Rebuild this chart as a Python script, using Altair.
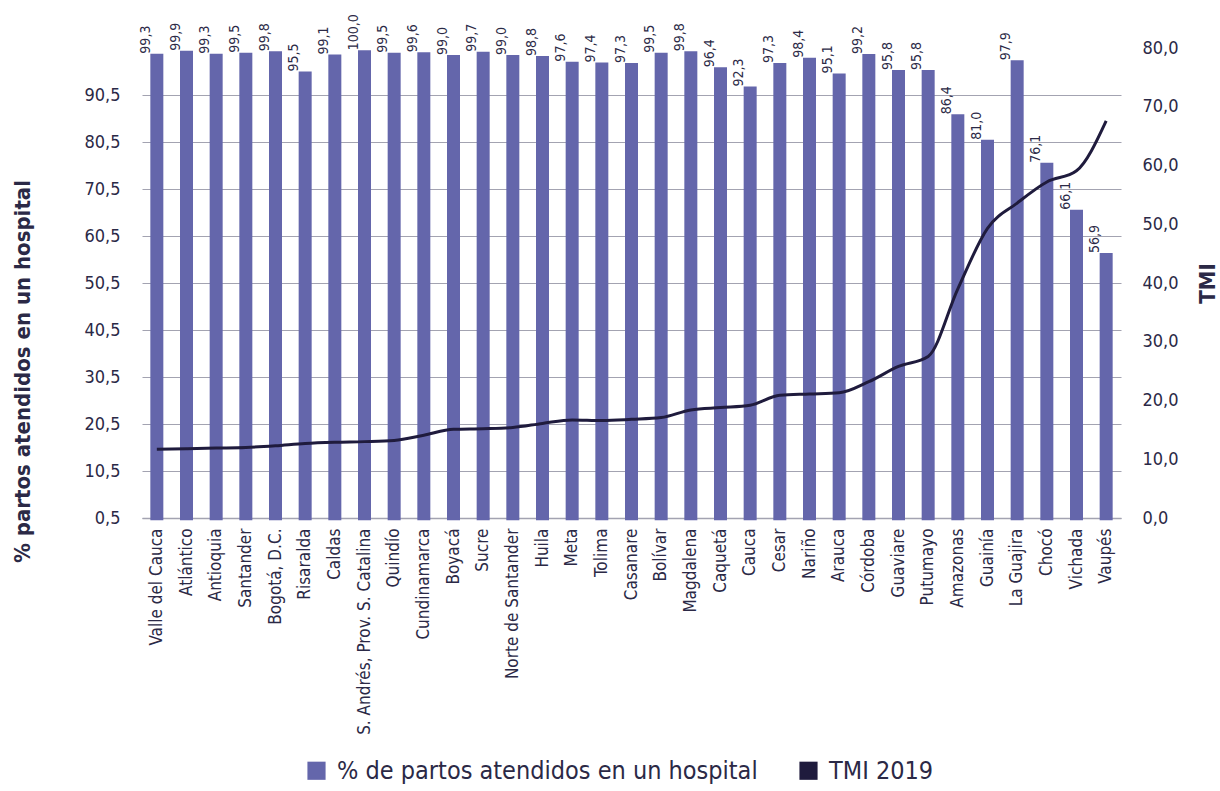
import altair as alt
import pandas as pd

# Departamentos, ordenados por TMI ascendente
departamentos = [
    "Valle del Cauca", "Atlántico", "Antioquia", "Santander", "Bogotá, D.C.",
    "Risaralda", "Caldas", "S. Andrés, Prov. S. Catalina", "Quindío",
    "Cundinamarca", "Boyacá", "Sucre", "Norte de Santander", "Huila", "Meta",
    "Tolima", "Casanare", "Bolívar", "Magdalena", "Caquetá", "Cauca", "Cesar",
    "Nariño", "Arauca", "Córdoba", "Guaviare", "Putumayo", "Amazonas",
    "Guainía", "La Guajira", "Chocó", "Vichada", "Vaupés",
]

# % de partos atendidos en un hospital
partos_hospital = [
    99.3, 99.9, 99.3, 99.5, 99.8, 95.5, 99.1, 100.0, 99.5, 99.6, 99.0, 99.7,
    99.0, 98.8, 97.6, 97.4, 97.3, 99.5, 99.8, 96.4, 92.3, 97.3, 98.4, 95.1,
    99.2, 95.8, 95.8, 86.4, 81.0, 97.9, 76.1, 66.1, 56.9,
]

# Tasa de mortalidad infantil 2019
tmi_2019 = [
    11.7, 11.8, 11.9, 12.0, 12.3, 12.7, 12.9, 13.0, 13.2, 14.1, 15.1, 15.2,
    15.4, 16.1, 16.7, 16.6, 16.8, 17.1, 18.4, 18.8, 19.2, 20.9, 21.1, 21.3,
    23.2, 25.8, 27.5, 39.0, 49.3, 53.6, 57.2, 59.1, 67.6,
]

left_ticks = [0.5, 10.5, 20.5, 30.5, 40.5, 50.5, 60.5, 70.5, 80.5, 90.5]
right_ticks = [0, 10, 20, 30, 40, 50, 60, 70, 80]

SERIE_BARRA = "% de partos atendidos en un hospital"
SERIE_LINEA = "TMI 2019"

BAR_COLOR = "#6466ab"
LINE_COLOR = "#1f1b3d"
TEXT_COLOR = "#2b2946"
GRID_COLOR = "#a3a3b1"
FONT = "Liberation Sans Narrow, DejaVu Sans Condensed, Roboto, sans-serif"

df = pd.DataFrame({
    "departamento": departamentos,
    "partos": partos_hospital,
    "tmi": tmi_2019,
})
df["etiqueta"] = [f"{v:.1f}".replace(".", ",") for v in partos_hospital]
df["serie"] = SERIE_BARRA

comma_1 = "replace(format(datum.value, '.1f'), '.', ',')"

x_enc = alt.X(
    "departamento:N",
    sort=departamentos,
    scale=alt.Scale(paddingInner=0.5, paddingOuter=0.25),
    axis=alt.Axis(
        title=None, labelAngle=270, labelFontSize=17, labelColor=TEXT_COLOR,
        labelFont=FONT, labelPadding=10, labelLimit=400, ticks=False,
        domainColor=GRID_COLOR, domainWidth=1.5,
    ),
)

y_left_scale = alt.Scale(domain=[0.5, 100.5], nice=False, zero=False)

bars = alt.Chart(df).mark_bar(size=13).encode(
    x=x_enc,
    y=alt.Y(
        "partos:Q",
        scale=y_left_scale,
        axis=alt.Axis(
            title="% partos atendidos en un hospital",
            values=left_ticks, labelExpr=comma_1,
            labelFontSize=18, labelColor=TEXT_COLOR, labelFont=FONT,
            labelPadding=22, ticks=False, domain=False,
            grid=True, gridColor=GRID_COLOR, gridWidth=1,
            titleFontSize=22, titleFontWeight="bold", titleColor=TEXT_COLOR,
            titleFont=FONT, titleAngle=270, titleX=-120, titleY=323,
            titleAlign="center", titleBaseline="middle",
        ),
    ),
    color=alt.Color(
        "serie:N",
        scale=alt.Scale(domain=[SERIE_BARRA, SERIE_LINEA],
                        range=[BAR_COLOR, LINE_COLOR]),
        legend=alt.Legend(
            title=None, orient="none", direction="horizontal",
            legendX=162, legendY=710, symbolType="square", symbolSize=330,
            symbolStrokeWidth=0, labelFontSize=25, labelFont=FONT,
            labelColor=TEXT_COLOR, labelOffset=8, columnPadding=38,
            labelLimit=600,
        ),
    ),
)

labels = alt.Chart(df).mark_text(
    angle=270, align="left", baseline="middle", dy=-11,
    fontSize=14, font=FONT, color=TEXT_COLOR,
).encode(
    x=alt.X("departamento:N", sort=departamentos),
    y=alt.Y("partos:Q", scale=y_left_scale),
    text="etiqueta:N",
)

line = alt.Chart(df).mark_line(
    interpolate="monotone", strokeWidth=3, color=LINE_COLOR,
).encode(
    x=alt.X("departamento:N", sort=departamentos),
    y=alt.Y(
        "tmi:Q",
        scale=alt.Scale(domain=[0, 80], nice=False),
        axis=alt.Axis(
            orient="right", title="TMI", values=right_ticks, labelExpr=comma_1,
            labelFontSize=18, labelColor=TEXT_COLOR, labelFont=FONT,
            labelPadding=21, ticks=False, domain=False, grid=False,
            titleFontSize=22, titleFontWeight="bold", titleColor=TEXT_COLOR,
            titleFont=FONT, titleAngle=270, titleX=86, titleY=235,
            titleAlign="center", titleBaseline="middle",
        ),
    ),
)

chart = (
    alt.layer(alt.layer(bars, labels), line)
    .resolve_scale(y="independent")
    .properties(
        width=979, height=470,
        padding={"left": 142, "top": 48, "right": 99, "bottom": 273},
        autosize=alt.AutoSizeParams(type="none"),
        background="white",
    )
    .configure_view(stroke=None)
)

chart.save("out.html", embed_options={"renderer": "svg", "actions": False})
